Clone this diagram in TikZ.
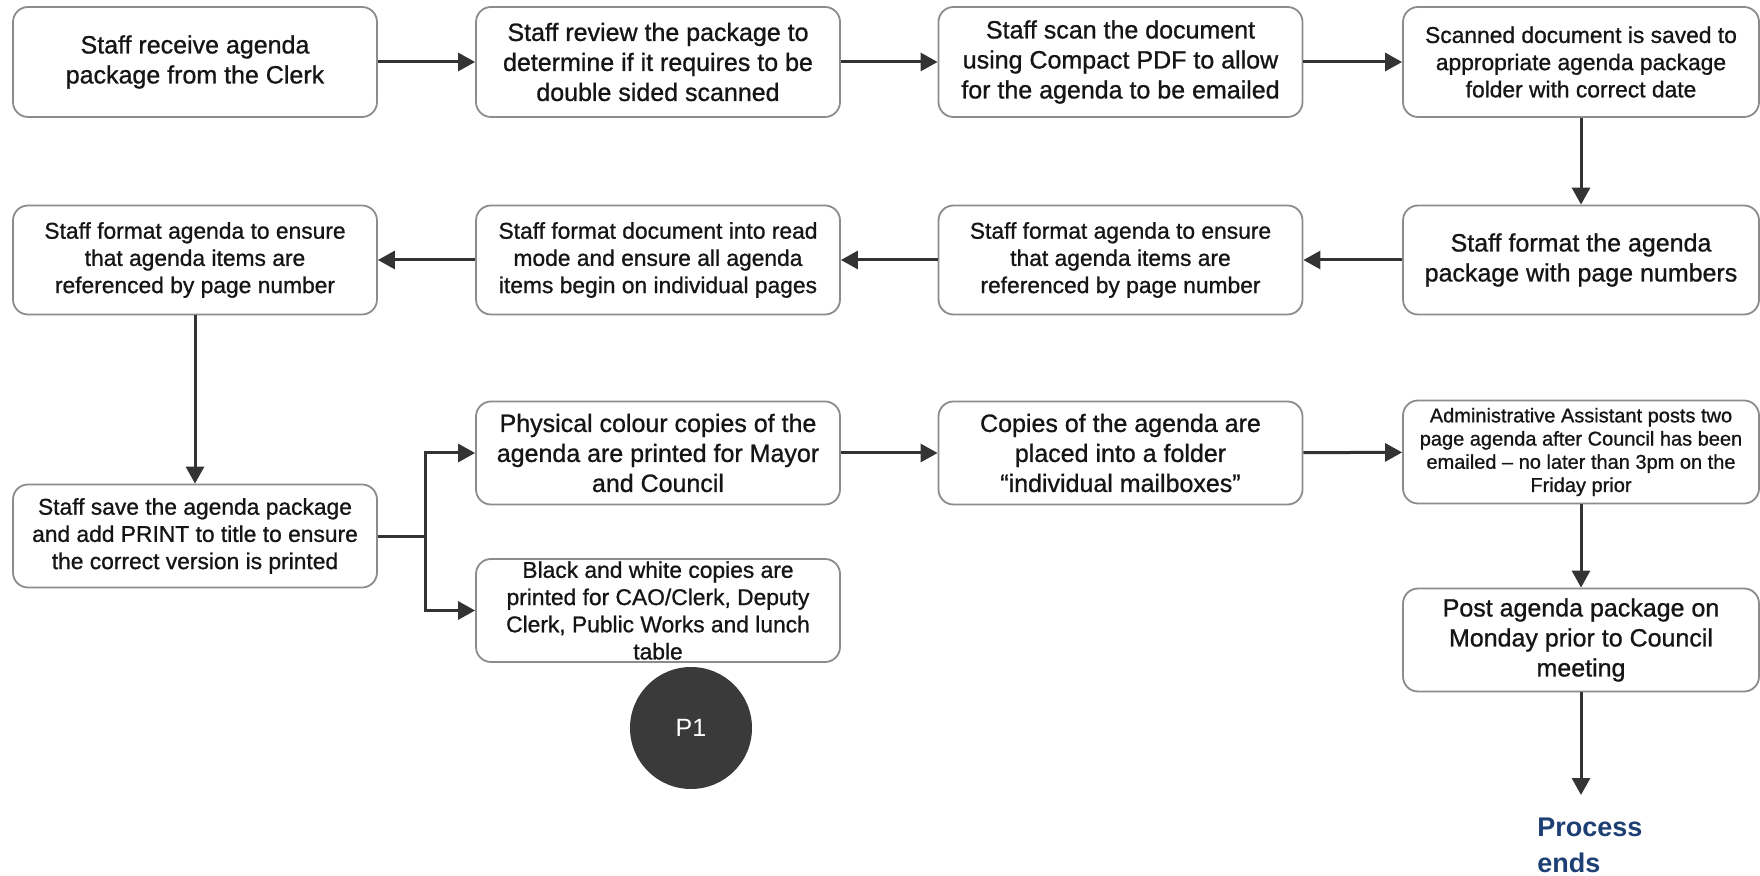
\documentclass[tikz,border=0pt]{standalone}
\usepackage{fontspec}
\setmainfont{Liberation Sans}[RawFeature={embolden=0.9}]
\newfontfamily\plainsans{Liberation Sans}
\usetikzlibrary{arrows.meta}

\definecolor{ink}{HTML}{151515}
\definecolor{frame}{HTML}{8C8C8C}
\definecolor{wire}{HTML}{333333}
\definecolor{badge}{HTML}{3A3A3A}
\definecolor{endblue}{HTML}{1D3F73}

\tikzset{
  stepbox/.style={draw=frame, line width=0.9pt, rounded corners=7.5pt,
    align=center, text=ink, inner sep=0pt, fill=white,
    minimum width=182pt, font=\fontsize{12.5}{15}\selectfont},
  lastcol/.style={minimum width=178pt},
  rowone/.style={minimum height=55pt},
  rowtwo/.style={minimum height=54.5pt},
  rowthree/.style={minimum height=51.5pt},
  mediumtext/.style={font=\fontsize{11.4}{13.6}\selectfont},
  smalltext/.style={font=\fontsize{10}{11.6}\selectfont},
  flow/.style={draw=wire, line width=1.5pt, -{Triangle[length=8.5pt,width=9pt]}},
  badgenode/.style={circle, fill=badge, minimum size=61pt, inner sep=0pt,
    text=white, font=\plainsans\fontsize{12.5}{15}\selectfont},
  endnote/.style={anchor=north west, align=left, inner sep=0pt, text=endblue,
    font=\plainsans\fontsize{13.5}{18}\selectfont\bfseries},
}

\begin{document}
\begin{tikzpicture}[x=0.5pt, y=-0.5pt]
\useasboundingbox (0,0) rectangle (1760,876);

% first row, left to right
\node[stepbox, rowone] (b1) at (195,62) {Staff receive agenda\\package from the Clerk};
\node[stepbox, rowone] (b2) at (658,62) {Staff review the package to\\determine if it requires to be\\double sided scanned};
\node[stepbox, rowone] (b3) at (1120.5,62) {Staff scan the document\\using Compact PDF to allow\\for the agenda to be emailed};
\node[stepbox, rowone, lastcol, mediumtext] (b4) at (1581,62) {Scanned document is saved to\\appropriate agenda package\\folder with correct date};

% second row, right to left
\node[stepbox, rowtwo, lastcol] (b5) at (1581,260) {Staff format the agenda\\package with page numbers};
\node[stepbox, rowtwo, mediumtext] (b6) at (1120.5,260) {Staff format agenda to ensure\\that agenda items are\\referenced by page number};
\node[stepbox, rowtwo, mediumtext] (b7) at (658,260) {Staff format document into read\\mode and ensure all agenda\\items begin on individual pages};
\node[stepbox, rowtwo, mediumtext] (b8) at (195,260) {Staff format agenda to ensure\\that agenda items are\\referenced by page number};

% printing stage
\node[stepbox, rowthree, mediumtext] (b9) at (195,536) {Staff save the agenda package\\and add PRINT to title to ensure\\the correct version is printed};
\node[stepbox, rowthree] (b10) at (658,453) {Physical colour copies of the\\agenda are printed for Mayor\\and Council};
\node[stepbox, rowthree, mediumtext] (b11) at (658,610.5) {Black and white copies are\\printed for CAO/Clerk, Deputy\\Clerk, Public Works and lunch\\table};
\node[stepbox, rowthree] (b12) at (1120.5,453) {Copies of the agenda are\\placed into a folder\\“individual mailboxes”};
\node[stepbox, rowthree, lastcol, smalltext] (b13) at (1581,452) {Administrative Assistant posts two\\page agenda after Council has been\\emailed – no later than 3pm on the\\Friday prior};
\node[stepbox, rowthree, lastcol] (b14) at (1581,640) {Post agenda package on\\Monday prior to Council\\meeting};

% page marker and end of process
\node[badgenode] (p1) at (691,728) {P1};
\node[endnote] (done) at (1537,818) {Process\\ends};
\coordinate (stop) at (1581,795);

% connectors
\draw[flow] (b1) -- (b2);
\draw[flow] (b2) -- (b3);
\draw[flow] (b3) -- (b4);
\draw[flow] (b4) -- (b5);
\draw[flow] (b5) -- (b6);
\draw[flow] (b6) -- (b7);
\draw[flow] (b7) -- (b8);
\draw[flow] (b8) -- (b9);
\draw[flow] (b9.east) -- ++(48,0) |- (b10.west);
\draw[flow] (b9.east) -- ++(48,0) |- (b11.west);
\draw[flow] (b10) -- (b12);
\draw[flow] (b12) -- (b13);
\draw[flow] (b13) -- (b14);
\draw[flow] (b14) -- (stop);
\end{tikzpicture}
\end{document}
